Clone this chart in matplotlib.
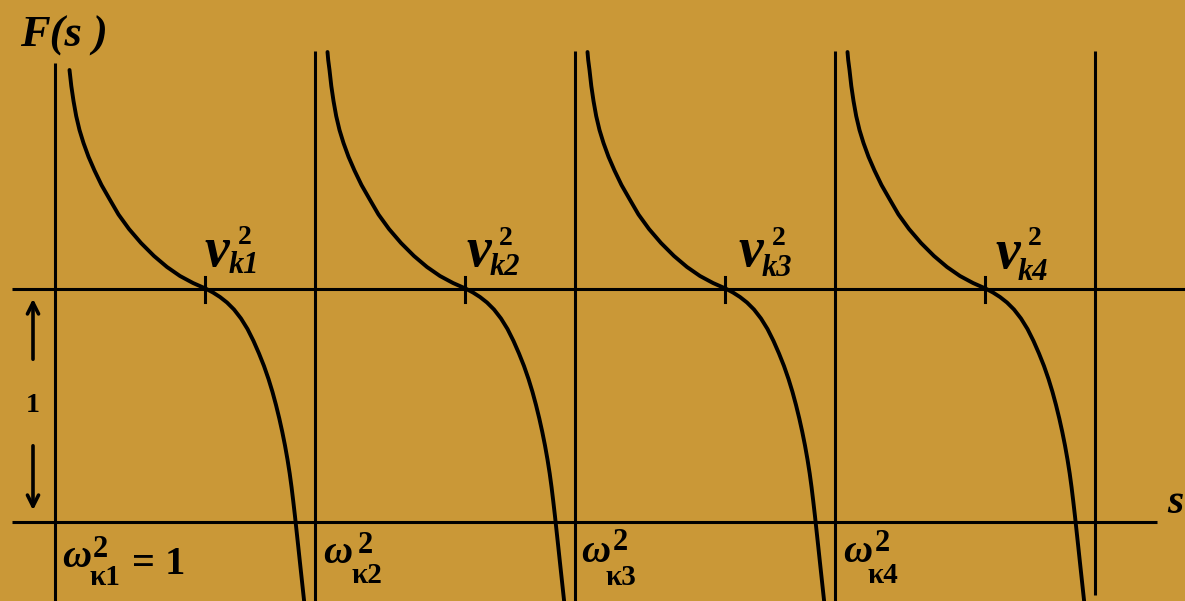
import matplotlib
matplotlib.use("Agg")
import matplotlib.pyplot as plt

# Frequency function F(s): one branch per interval between the natural frequencies
poles = [1, 2, 3, 4, 5]                       # omega_k^2 positions (vertical asymptotes)
branch_offset = [0.0481, 0.0508, 0.0558, 0.0627, 0.0712, 0.0815, 0.0942, 0.1096,
                 0.1288, 0.1519, 0.1788, 0.2096, 0.2442, 0.2846, 0.3308, 0.3808,
                 0.4308, 0.4808, 0.5308, 0.5788, 0.6077, 0.6346, 0.6615, 0.6885,
                 0.7154, 0.7404, 0.7635, 0.7846, 0.8038, 0.8212, 0.8365, 0.8500,
                 0.8627, 0.8742, 0.8846, 0.8942, 0.9027, 0.9100, 0.9165, 0.9227,
                 0.9285, 0.9362, 0.9438, 0.9515, 0.9581]
branch_F = [2.0150, 1.9807, 1.9378, 1.8691, 1.8047, 1.7403, 1.6803, 1.6245,
            1.5657, 1.5064, 1.4442, 1.3841, 1.3176, 1.2554, 1.1953, 1.1395,
            1.0923, 1.0536, 1.0236, 1.0000, 0.9828, 0.9635, 0.9399, 0.9099,
            0.8712, 0.8262, 0.7747, 0.7210, 0.6674, 0.6116, 0.5558, 0.5000,
            0.4421, 0.3841, 0.3262, 0.2661, 0.2060, 0.1459, 0.0858, 0.0258,
            -0.0343, -0.1137, -0.1931, -0.2725, -0.3412]
root_offset = 0.5788                          # where F(s) = 1  ->  nu_k^2
nu_labels = ["k1", "k2", "k3", "k4"]
omega_labels = ["\u03ba1", "\u03ba2", "\u03ba3", "\u03ba4"]

BG = "#CA9837"
W, H = 1185, 601
fig = plt.figure(figsize=(W / 100, H / 100), dpi=100, facecolor=BG)
ax = fig.add_axes([0, 0, 1, 1], facecolor=BG)
s_left = 1 - 55 / 260
s_right = 1 + (W - 55) / 260
F_bottom = (521.5 - H) / 233
F_top = 521.5 / 233
ax.set_xlim(s_left, s_right)
ax.set_ylim(F_bottom, F_top)
ax.axis("off")


def P(x, y):
    """pixel position -> data coordinates"""
    return 1 + (x - 55) / 260, (521.5 - y) / 233


LW = 2.2
# horizontal reference lines F = 1 and F = 0
ax.plot([P(12, 0)[0], s_right], [1, 1], color="black", lw=LW, solid_capstyle="butt")
ax.plot([P(12, 0)[0], P(1157, 0)[0]], [0, 0], color="black", lw=LW, solid_capstyle="butt")

# vertical asymptotes
for i, p in enumerate(poles):
    top = P(0, 63)[1] if i == 0 else P(0, 51)[1]
    bot = P(0, 595)[1] if i == len(poles) - 1 else F_bottom
    ax.plot([p, p], [bot, top], color="black", lw=LW, solid_capstyle="butt")

# branches of F(s)
for i, p in enumerate(poles[:-1]):
    start = 2 if i == 0 else 0
    xs = [p + o for o in branch_offset[start:]]
    ax.plot(xs, branch_F[start:], color="black", lw=2.8,
            solid_capstyle="round", solid_joinstyle="round")
    # tick at the root F = 1
    ax.plot([p + root_offset] * 2, [P(0, 277)[1], P(0, 302)[1]], color="black", lw=LW)

serif = "Liberation Serif"

# axis labels
ax.text(*P(20, 47), "F(s )", fontfamily=serif, fontweight="bold", fontstyle="italic",
        fontsize=32, ha="left", va="baseline")
ax.text(*P(1167, 513), "s", fontfamily=serif, fontweight="bold", fontstyle="italic",
        fontsize=30, ha="left", va="baseline")

# nu_k^2 labels
nu_pos = [(204, 266, 238, 244, 229, 273),
          (466, 266, 499, 245, 490, 275),
          (738, 266, 772, 245, 762, 276),
          (995, 268, 1028, 245, 1018, 280)]
for lab, (vx, vy, sx, sy, kx, ky) in zip(nu_labels, nu_pos):
    ax.text(*P(vx, vy), "v", fontfamily=serif, fontweight="bold", fontstyle="italic",
            fontsize=40, ha="left", va="baseline")
    ax.text(*P(sx, sy), "2", fontfamily=serif, fontweight="bold",
            fontsize=20, ha="left", va="baseline")
    ax.text(*P(kx, ky), lab, fontfamily=serif, fontweight="bold", fontstyle="italic",
            fontsize=22, ha="left", va="baseline")

# omega_k^2 labels
om_pos = [(62, 567, 93, 557, 89, 585),
          (323, 563, 358, 553, 351, 583),
          (581, 562, 613, 550, 606, 585),
          (843, 562, 875, 551, 868, 583)]
for lab, (wx, wy, sx, sy, kx, ky) in zip(omega_labels, om_pos):
    ax.text(*P(wx, wy), "\u03c9", fontfamily=serif, fontweight="bold", fontstyle="italic",
            fontsize=29, ha="left", va="baseline")
    ax.text(*P(sx, sy), "2", fontfamily=serif, fontweight="bold",
            fontsize=22, ha="left", va="baseline")
    ax.text(*P(kx, ky), lab, fontfamily=serif, fontweight="bold",
            fontsize=21, ha="left", va="baseline")
ax.text(*P(132, 574), "= 1", fontfamily=serif, fontweight="bold",
        fontsize=29, ha="left", va="baseline")

# unit-length arrows on the left
arrow = dict(arrowstyle="->,head_length=0.8,head_width=0.4", color="black", lw=2.6)
ax.annotate("", xy=P(33, 296), xytext=P(33, 362), arrowprops=arrow)
ax.annotate("", xy=P(33, 513), xytext=P(33, 443), arrowprops=arrow)
ax.text(*P(33, 412), "1", fontfamily=serif, fontweight="bold",
        fontsize=20, ha="center", va="baseline")

fig.savefig("out.png", dpi=100, facecolor=BG)
